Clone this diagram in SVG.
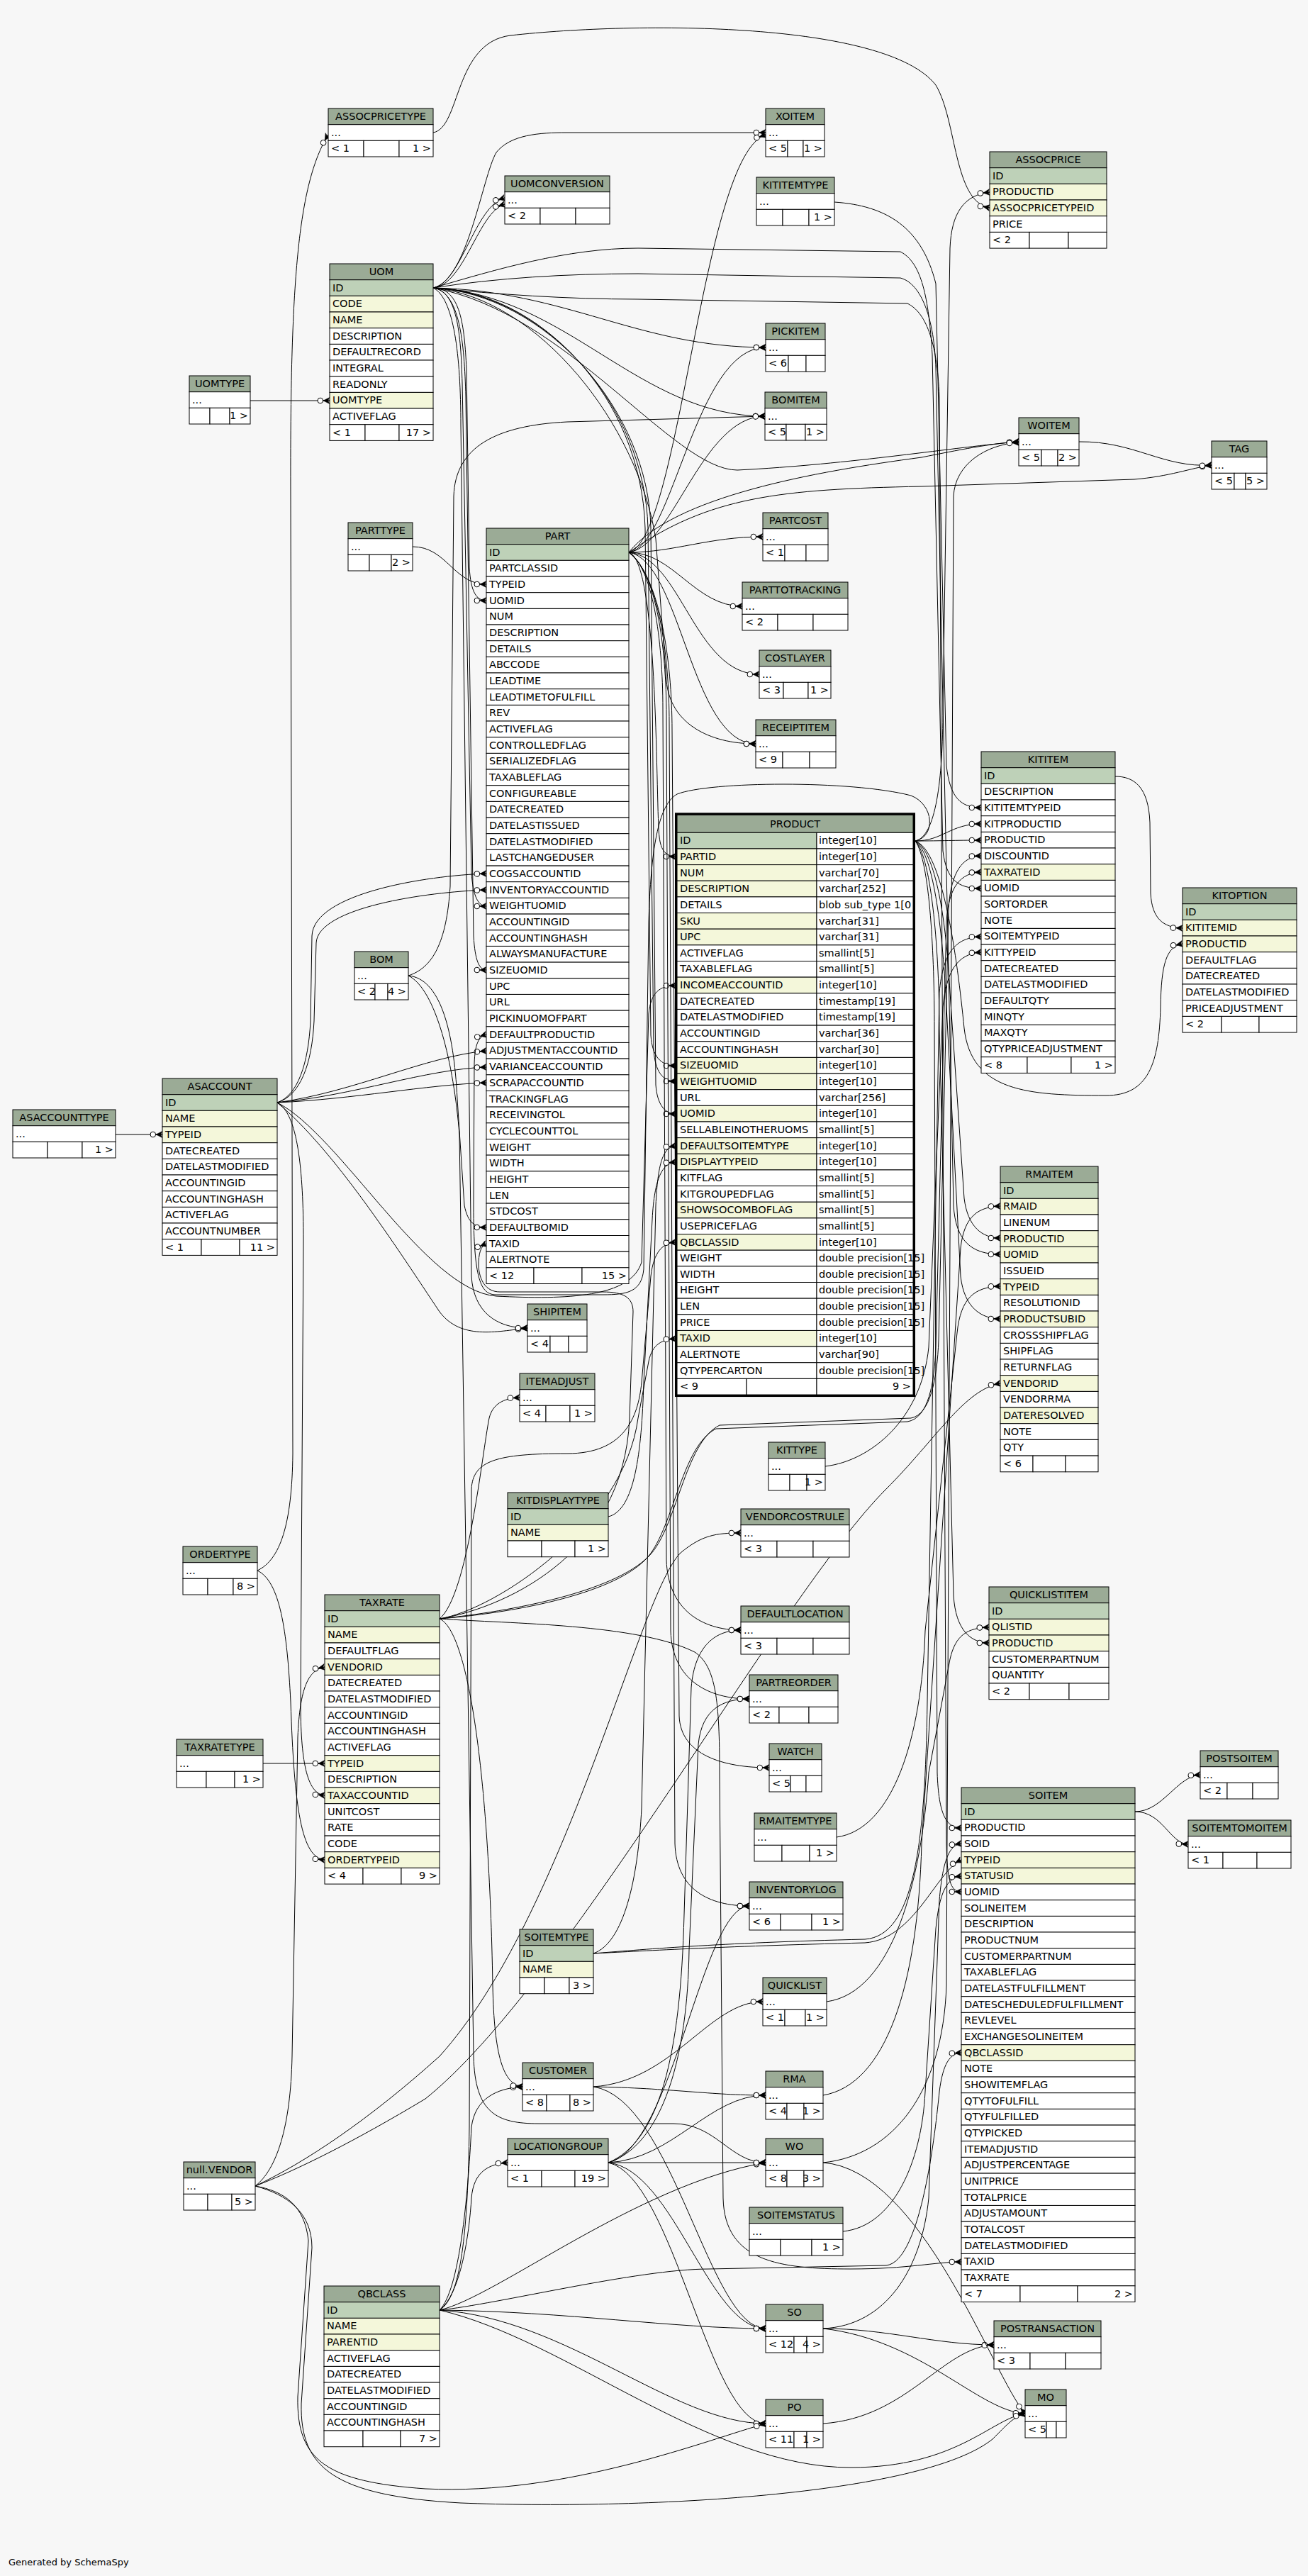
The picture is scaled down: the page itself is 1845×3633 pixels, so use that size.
<svg xmlns="http://www.w3.org/2000/svg" width="1845" height="3633" viewBox="0 0 1845 3633">
<style>
text{font-family:"DejaVu Sans","Liberation Sans",sans-serif;font-size:14.5px;fill:#000}
rect{stroke:#000;stroke-width:1}
.h{fill:#9bab96}.p{fill:#bed1b8}.f{fill:#f4f7da}.w{fill:#fff}
.c{text-anchor:middle}.r{text-anchor:end}
.e{fill:none;stroke:#000;stroke-width:1;marker-end:url(#cf)}
</style>
<defs>
<marker id="cf" markerUnits="userSpaceOnUse" markerWidth="22" markerHeight="14" refX="18" refY="7" orient="auto" viewBox="0 0 22 14"><path d="M9,7L18,2.5L15.5,7L18,11.5Z" fill="#000" stroke="#000" stroke-width="0.6"/><path d="M9,7L18,7" stroke="#000"/><circle cx="4.8" cy="7" r="3.8" fill="#fff" stroke="#000"/></marker>
</defs>
<rect width="1845" height="3633" style="fill:#f7f7f7;stroke:none"/>
<g id="connectors">
<path class="e" d="M353,565 L465,565"/>
<path class="e" d="M163,1600 L229,1600"/>
<path class="e" d="M371,2487 L458,2487"/>
<path class="e" d="M611,187 C650,180 640,60 720,50 C900,30 1250,30 1320,120 C1350,170 1345,285 1396,293"/>
<path class="e" d="M363,2215 C395,2200 412,2150 413,2050 L410,700 C409,400 420,260 463,190"/>
<path class="e" d="M363,2215 C395,2230 405,2300 410,2400 C415,2550 425,2620 458,2623"/>
<path class="e" d="M360,3083 C390,3060 410,3000 412,2900 L420,2450 C423,2380 435,2355 458,2351"/>
<path class="e" d="M391,1555 C420,1570 428,1650 428,1750 L424,2400 C424,2480 432,2530 458,2532"/>
<path class="e" d="M391,1555 C420,1545 435,1500 438,1440 L440,1320 C442,1260 600,1235 686,1232"/>
<path class="e" d="M391,1555 C424,1545 440,1500 443,1440 L446,1330 C448,1280 600,1258 686,1255"/>
<path class="e" d="M391,1555 C500,1540 600,1490 686,1482"/>
<path class="e" d="M391,1555 C500,1545 600,1508 686,1505"/>
<path class="e" d="M391,1555 C500,1550 600,1530 686,1527"/>
<path class="e" d="M391,1555 C480,1600 600,1820 700,1828 C800,1833 890,1830 905,1780 L915,1430 C918,1400 930,1390 953,1390"/>
<path class="e" d="M391,1555 C470,1620 560,1760 620,1850 C650,1890 700,1878 744,1873"/>
<path class="e" d="M611,406 C650,406 655,460 658,520 L662,800 C664,835 672,847 686,847"/>
<path class="e" d="M611,406 C645,410 650,470 652,540 L665,1230 C667,1265 675,1278 686,1278"/>
<path class="e" d="M611,406 C648,412 655,480 657,560 L668,1320 C670,1355 676,1368 686,1368"/>
<path class="e" d="M611,406 C760,410 905,560 910,745 L918,1460 C920,1490 932,1503 953,1503"/>
<path class="e" d="M611,406 C765,412 910,570 914,745 L922,1480 C924,1512 935,1525 953,1525"/>
<path class="e" d="M611,406 C770,415 915,580 918,745 L925,1530 C927,1558 938,1571 953,1571"/>
<path class="e" d="M611,406 C700,380 800,350 900,350 L1270,355 C1300,370 1310,420 1315,500 L1330,1200 C1335,1240 1350,1253 1384,1253"/>
<path class="e" d="M611,406 C700,392 800,386 900,386 L1270,392 C1300,400 1318,450 1320,520 L1345,1700 C1348,1750 1370,1769 1411,1769"/>
<path class="e" d="M611,406 C700,415 800,422 900,422 L1280,428 C1305,440 1322,480 1325,560 L1335,2600 C1336,2650 1340,2668 1356,2668"/>
<path class="e" d="M611,406 C650,400 670,290 712,279"/>
<path class="e" d="M611,406 C655,402 675,298 712,288"/>
<path class="e" d="M611,406 C660,395 680,250 700,215 C720,190 760,187 800,187 L1080,187"/>
<path class="e" d="M611,406 C800,410 900,490 1080,490"/>
<path class="e" d="M611,406 C800,415 900,587 1079,587"/>
<path class="e" d="M611,406 C800,440 950,663 1040,663 C1200,655 1350,630 1437,623"/>
<path class="e" d="M611,406 C760,420 900,600 925,760 L940,960 C945,1020 1000,1049 1066,1049"/>
<path class="e" d="M611,406 C640,420 650,500 650,600 L665,1800 C668,1850 700,1873 744,1873"/>
<path class="e" d="M582,771 C630,771 640,824 686,824"/>
<path class="e" d="M887,779 C950,779 1000,757 1076,757"/>
<path class="e" d="M887,779 C950,779 980,855 1047,855"/>
<path class="e" d="M887,779 C960,785 980,951 1071,951"/>
<path class="e" d="M887,779 C960,790 975,1049 1066,1049"/>
<path class="e" d="M887,779 C930,790 925,1150 930,1180 C932,1200 940,1208 953,1208"/>
<path class="e" d="M887,779 C950,770 980,490 1080,490"/>
<path class="e" d="M887,779 C950,770 990,587 1079,587"/>
<path class="e" d="M887,779 C960,760 990,220 1080,190"/>
<path class="e" d="M887,779 C950,700 1150,665 1300,645 C1350,635 1400,625 1437,623"/>
<path class="e" d="M887,779 C1000,700 1100,690 1300,686 L1600,676 C1650,672 1680,660 1709,656"/>
<path class="e" d="M887,779 C920,800 935,900 935,1000 L940,2200 C942,2270 990,2299 1045,2299"/>
<path class="e" d="M887,779 C925,805 940,910 940,1010 L946,2300 C948,2370 1000,2396 1057,2396"/>
<path class="e" d="M887,779 C928,810 944,920 944,1020 L952,2600 C954,2665 1000,2688 1057,2688"/>
<path class="e" d="M887,779 C930,812 948,930 948,1030 L958,2420 C960,2475 1020,2493 1085,2493"/>
<path class="e" d="M1291,1186 C1320,1180 1330,1100 1330,1000 L1340,350 C1342,300 1360,275 1396,271"/>
<path class="e" d="M1291,1186 C1330,1186 1340,1162 1384,1162"/>
<path class="e" d="M1291,1186 C1330,1186 1345,1185 1384,1185"/>
<path class="e" d="M1291,1186 C1330,1200 1350,1350 1360,1450 C1370,1540 1450,1545 1560,1545 C1620,1545 1635,1500 1637,1420 C1638,1360 1645,1335 1668,1331"/>
<path class="e" d="M1291,1186 C1320,1200 1335,1300 1340,1400 L1360,1690 C1365,1730 1385,1746 1411,1746"/>
<path class="e" d="M1291,1186 C1318,1205 1330,1320 1335,1420 L1355,1800 C1360,1845 1385,1860 1411,1860"/>
<path class="e" d="M1291,1186 C1315,1210 1325,1350 1325,1450 L1345,2250 C1348,2300 1370,2317 1395,2317"/>
<path class="e" d="M1291,1186 C1312,1215 1318,1350 1318,1450 L1322,2500 C1324,2560 1335,2578 1356,2578"/>
<path class="e" d="M1291,1186 C1320,1180 1318,1135 1285,1122 C1200,1100 1000,1102 955,1120 C928,1135 918,1200 915,1300 L908,1790 C905,1822 885,1826 850,1826 L700,1826 C678,1826 668,1805 668,1700 L669,1500 C670,1472 675,1462 686,1459"/>
<path class="e" d="M620,2283 C700,2270 880,2200 888,2000 L893,1850 C893,1830 880,1822 850,1822 L705,1822 C685,1822 676,1805 675,1785 C675,1768 678,1757 686,1754"/>
<path class="e" d="M1573,1095 C1600,1095 1620,1110 1622,1160 L1623,1260 C1625,1295 1640,1308 1668,1309"/>
<path class="e" d="M1601,2555 C1640,2555 1660,2505 1693,2503"/>
<path class="e" d="M1601,2555 C1640,2555 1650,2600 1676,2601"/>
<path class="e" d="M1177,285 C1250,290 1300,320 1320,400 L1335,1080 C1340,1125 1355,1139 1384,1139"/>
<path class="e" d="M1164,2068 C1230,2060 1300,2000 1310,1900 L1330,1420 C1335,1370 1350,1345 1384,1343"/>
<path class="e" d="M837,2755 C880,2740 900,2650 905,2550 L925,1700 C928,1640 935,1618 953,1616"/>
<path class="e" d="M837,2755 C900,2750 1010,2740 1220,2735 C1290,2730 1305,2600 1308,2400 L1325,1400 C1330,1340 1350,1322 1384,1321"/>
<path class="e" d="M837,2755 C900,2752 1010,2745 1220,2740 C1290,2735 1320,2640 1356,2623"/>
<path class="e" d="M858,2139 C895,2130 905,2050 908,1950 L920,1720 C923,1660 935,1640 953,1639"/>
<path class="e" d="M620,3258 C650,3240 660,3150 662,3000 L665,2100 C667,2060 700,2050 800,2050 C880,2050 900,2000 905,1950 L918,1800 C922,1765 935,1753 953,1752"/>
<path class="e" d="M620,3258 C700,3250 900,3200 1000,3200 L1250,3195 C1300,3190 1320,3000 1325,2950 C1330,2910 1340,2896 1356,2895"/>
<path class="e" d="M620,3258 C800,3260 950,3284 1080,3284"/>
<path class="e" d="M620,3258 C800,3270 950,3418 1080,3418"/>
<path class="e" d="M620,3258 C800,3300 1000,3480 1200,3480 C1350,3480 1400,3410 1446,3404"/>
<path class="e" d="M620,3258 C650,3235 662,3150 665,3100 C668,3062 690,3052 716,3050"/>
<path class="e" d="M620,3258 C648,3230 660,3100 665,3000 C670,2960 700,2945 737,2943"/>
<path class="e" d="M620,3258 C700,3240 900,3080 1080,3050"/>
<path class="e" d="M1161,3284 C1250,3280 1300,3200 1310,3100 L1325,2680 C1330,2620 1340,2602 1356,2600"/>
<path class="e" d="M1161,3284 C1250,3284 1320,3307 1402,3307"/>
<path class="e" d="M1161,3284 C1300,3300 1380,3400 1446,3404"/>
<path class="e" d="M1161,3418 C1280,3410 1330,3310 1402,3307"/>
<path class="e" d="M1161,3050 C1260,3040 1330,2950 1335,2800 L1345,700 C1347,655 1390,627 1437,624"/>
<path class="e" d="M1161,3050 C1300,3060 1400,3350 1446,3404"/>
<path class="e" d="M858,3050 L1080,3050"/>
<path class="e" d="M858,3050 C950,3045 1000,2955 1080,2955"/>
<path class="e" d="M858,3050 C950,3060 1000,3284 1080,3284"/>
<path class="e" d="M858,3050 C950,3070 1000,3418 1080,3418"/>
<path class="e" d="M858,3050 C950,3030 990,2688 1057,2688"/>
<path class="e" d="M858,3050 C930,3020 960,2900 965,2700 L975,2380 C980,2320 1010,2299 1045,2299"/>
<path class="e" d="M858,3050 C935,3025 970,2900 972,2750 L985,2460 C990,2410 1020,2396 1057,2396"/>
<path class="e" d="M837,2943 C950,2945 1000,2955 1080,2955"/>
<path class="e" d="M837,2943 C950,2960 1000,3284 1080,3284"/>
<path class="e" d="M837,2943 C950,2935 1000,2823 1076,2823"/>
<path class="e" d="M360,3083 C420,3060 500,3020 600,2960 C800,2800 1100,2250 1250,2100 C1320,2030 1360,1960 1411,1951"/>
<path class="e" d="M360,3083 C430,3050 520,2990 620,2900 C800,2700 900,2250 960,2190 C990,2165 1010,2162 1045,2162"/>
<path class="e" d="M360,3083 C400,3090 430,3110 435,3160 L420,3380 C418,3470 460,3500 600,3510 C800,3520 1000,3440 1080,3418"/>
<path class="e" d="M360,3083 C405,3095 440,3120 440,3170 L425,3390 C423,3480 470,3520 650,3530 C900,3540 1300,3520 1400,3440 C1420,3420 1430,3408 1446,3404"/>
<path class="e" d="M620,2283 C700,2270 880,2150 900,2000 L915,1920 C920,1895 935,1889 953,1888"/>
<path class="e" d="M620,2283 C720,2275 860,2250 910,2200 C950,2160 960,2040 1010,2015 L1280,2005 C1310,2000 1318,1950 1320,1900 L1335,1300 C1338,1250 1355,1231 1384,1230"/>
<path class="e" d="M620,2283 C725,2272 865,2245 915,2195 C955,2155 965,2035 1015,2010 L1285,2000 C1312,1995 1322,1945 1324,1890 L1338,1280 C1342,1228 1358,1208 1384,1207"/>
<path class="e" d="M620,2283 C720,2290 900,2290 980,2330 C1010,2350 1015,2400 1015,2500 L1020,3100 C1022,3190 1100,3200 1200,3200 C1280,3200 1320,3190 1356,3190"/>
<path class="e" d="M620,2283 C660,2250 680,2050 690,2000 C695,1980 710,1972 733,1971"/>
<path class="e" d="M620,2283 C660,2300 690,2500 695,2800 C697,2900 710,2940 737,2943"/>
<path class="e" d="M1189,3147 C1260,3140 1300,3050 1305,2950 L1320,2720 C1325,2670 1335,2648 1356,2646"/>
<path class="e" d="M1180,2591 C1260,2580 1300,2450 1305,2300 L1350,1880 C1355,1830 1375,1815 1411,1814"/>
<path class="e" d="M1161,2955 C1250,2940 1295,2800 1300,2600 L1355,1760 C1360,1715 1380,1702 1411,1701"/>
<path class="e" d="M1166,2823 C1260,2810 1300,2650 1310,2500 L1340,2340 C1348,2305 1365,2296 1395,2295"/>
<path class="e" d="M1522,623 C1600,622 1640,660 1709,656"/>
<path class="e" d="M576,1376 C620,1380 640,1450 645,1550 L655,1700 C660,1725 670,1731 686,1731"/>
<path class="e" d="M576,1376 C610,1365 630,1330 635,1250 L640,700 C642,630 700,600 800,595 L1079,587"/>
<path class="e" d="M576,1376 C615,1395 640,1500 648,1600 L668,2900 C670,2980 700,2995 760,2995 L950,2995 C1010,2995 1030,3050 1080,3050"/>
</g>
<g id="ASSOCPRICETYPE" transform="translate(463,153)"><rect class="h" width="148" height="22.7"/><text class="c" x="74" y="16">ASSOCPRICETYPE</text><rect class="w" y="22.7" width="148" height="22.7"/><text x="4" y="38.7">...</text><rect class="w" y="45.3" width="50" height="22.7"/><rect class="w" x="50" y="45.3" width="50" height="22.7"/><rect class="w" x="100" y="45.3" width="48" height="22.7"/><text x="4" y="61.3">&lt; 1</text><text class="r" x="145" y="61.3">1 &gt;</text></g>
<g id="XOITEM" transform="translate(1080,153)"><rect class="h" width="83" height="22.7"/><text class="c" x="41.5" y="16">XOITEM</text><rect class="w" y="22.7" width="83" height="22.7"/><text x="4" y="38.7">...</text><rect class="w" y="45.3" width="31" height="22.7"/><rect class="w" x="31" y="45.3" width="22" height="22.7"/><rect class="w" x="53" y="45.3" width="30" height="22.7"/><text x="4" y="61.3">&lt; 5</text><text class="r" x="80" y="61.3">1 &gt;</text></g>
<g id="UOMCONVERSION" transform="translate(712,248)"><rect class="h" width="148" height="22.7"/><text class="c" x="74" y="16">UOMCONVERSION</text><rect class="w" y="22.7" width="148" height="22.7"/><text x="4" y="38.7">...</text><rect class="w" y="45.3" width="50" height="22.7"/><rect class="w" x="50" y="45.3" width="50" height="22.7"/><rect class="w" x="100" y="45.3" width="48" height="22.7"/><text x="4" y="61.3">&lt; 2</text></g>
<g id="KITITEMTYPE" transform="translate(1067,250)"><rect class="h" width="110" height="22.7"/><text class="c" x="55" y="16">KITITEMTYPE</text><rect class="w" y="22.7" width="110" height="22.7"/><text x="4" y="38.7">...</text><rect class="w" y="45.3" width="37" height="22.7"/><rect class="w" x="37" y="45.3" width="37" height="22.7"/><rect class="w" x="74" y="45.3" width="36" height="22.7"/><text class="r" x="107" y="61.3">1 &gt;</text></g>
<g id="ASSOCPRICE" transform="translate(1396,214)"><rect class="h" width="165" height="22.7"/><text class="c" x="82.5" y="16">ASSOCPRICE</text>
<rect class="p" y="22.7" width="165" height="22.7"/><text x="4" y="38.7">ID</text>
<rect class="f" y="45.3" width="165" height="22.7"/><text x="4" y="61.3">PRODUCTID</text>
<rect class="f" y="68" width="165" height="22.7"/><text x="4" y="84">ASSOCPRICETYPEID</text>
<rect class="w" y="90.7" width="165" height="22.7"/><text x="4" y="106.7">PRICE</text>
<rect class="w" y="113.4" width="56" height="22.7"/><rect class="w" x="56" y="113.4" width="55" height="22.7"/><rect class="w" x="111" y="113.4" width="54" height="22.7"/><text x="4" y="129.4">&lt; 2</text></g>
<g id="UOM" transform="translate(465,372)"><rect class="h" width="146" height="22.7"/><text class="c" x="73" y="16">UOM</text>
<rect class="p" y="22.7" width="146" height="22.7"/><text x="4" y="38.7">ID</text>
<rect class="f" y="45.3" width="146" height="22.7"/><text x="4" y="61.3">CODE</text>
<rect class="f" y="68" width="146" height="22.7"/><text x="4" y="84">NAME</text>
<rect class="w" y="90.7" width="146" height="22.7"/><text x="4" y="106.7">DESCRIPTION</text>
<rect class="w" y="113.4" width="146" height="22.7"/><text x="4" y="129.4">DEFAULTRECORD</text>
<rect class="w" y="136" width="146" height="22.7"/><text x="4" y="152">INTEGRAL</text>
<rect class="w" y="158.7" width="146" height="22.7"/><text x="4" y="174.7">READONLY</text>
<rect class="f" y="181.4" width="146" height="22.7"/><text x="4" y="197.4">UOMTYPE</text>
<rect class="w" y="204" width="146" height="22.7"/><text x="4" y="220">ACTIVEFLAG</text>
<rect class="w" y="226.7" width="50" height="22.7"/><rect class="w" x="50" y="226.7" width="48" height="22.7"/><rect class="w" x="98" y="226.7" width="48" height="22.7"/><text x="4" y="242.7">&lt; 1</text><text class="r" x="143" y="242.7">17 &gt;</text></g>
<g id="PICKITEM" transform="translate(1080,456)"><rect class="h" width="84" height="22.7"/><text class="c" x="42" y="16">PICKITEM</text><rect class="w" y="22.7" width="84" height="22.7"/><text x="4" y="38.7">...</text><rect class="w" y="45.3" width="32" height="22.7"/><rect class="w" x="32" y="45.3" width="25" height="22.7"/><rect class="w" x="57" y="45.3" width="27" height="22.7"/><text x="4" y="61.3">&lt; 6</text></g>
<g id="UOMTYPE" transform="translate(267,530)"><rect class="h" width="86" height="22.7"/><text class="c" x="43" y="16">UOMTYPE</text><rect class="w" y="22.7" width="86" height="22.7"/><text x="4" y="38.7">...</text><rect class="w" y="45.3" width="29" height="22.7"/><rect class="w" x="29" y="45.3" width="28" height="22.7"/><rect class="w" x="57" y="45.3" width="29" height="22.7"/><text class="r" x="83" y="61.3">1 &gt;</text></g>
<g id="BOMITEM" transform="translate(1079,553)"><rect class="h" width="87" height="22.7"/><text class="c" x="43.5" y="16">BOMITEM</text><rect class="w" y="22.7" width="87" height="22.7"/><text x="4" y="38.7">...</text><rect class="w" y="45.3" width="30" height="22.7"/><rect class="w" x="30" y="45.3" width="27" height="22.7"/><rect class="w" x="57" y="45.3" width="30" height="22.7"/><text x="4" y="61.3">&lt; 5</text><text class="r" x="84" y="61.3">1 &gt;</text></g>
<g id="WOITEM" transform="translate(1437,589)"><rect class="h" width="85" height="22.7"/><text class="c" x="42.5" y="16">WOITEM</text><rect class="w" y="22.7" width="85" height="22.7"/><text x="4" y="38.7">...</text><rect class="w" y="45.3" width="32" height="22.7"/><rect class="w" x="32" y="45.3" width="23" height="22.7"/><rect class="w" x="55" y="45.3" width="30" height="22.7"/><text x="4" y="61.3">&lt; 5</text><text class="r" x="82" y="61.3">2 &gt;</text></g>
<g id="TAG" transform="translate(1709,622)"><rect class="h" width="78" height="22.7"/><text class="c" x="39" y="16">TAG</text><rect class="w" y="22.7" width="78" height="22.7"/><text x="4" y="38.7">...</text><rect class="w" y="45.3" width="32" height="22.7"/><rect class="w" x="32" y="45.3" width="16" height="22.7"/><rect class="w" x="48" y="45.3" width="30" height="22.7"/><text x="4" y="61.3">&lt; 5</text><text class="r" x="75" y="61.3">5 &gt;</text></g>
<g id="PARTCOST" transform="translate(1076,723)"><rect class="h" width="92" height="22.7"/><text class="c" x="46" y="16">PARTCOST</text><rect class="w" y="22.7" width="92" height="22.7"/><text x="4" y="38.7">...</text><rect class="w" y="45.3" width="31" height="22.7"/><rect class="w" x="31" y="45.3" width="30" height="22.7"/><rect class="w" x="61" y="45.3" width="31" height="22.7"/><text x="4" y="61.3">&lt; 1</text></g>
<g id="PARTTYPE" transform="translate(491,737)"><rect class="h" width="91" height="22.7"/><text class="c" x="45.5" y="16">PARTTYPE</text><rect class="w" y="22.7" width="91" height="22.7"/><text x="4" y="38.7">...</text><rect class="w" y="45.3" width="30" height="22.7"/><rect class="w" x="30" y="45.3" width="31" height="22.7"/><rect class="w" x="61" y="45.3" width="30" height="22.7"/><text class="r" x="88" y="61.3">2 &gt;</text></g>
<g id="PART" transform="translate(686,745)"><rect class="h" width="201" height="22.7"/><text class="c" x="100.5" y="16">PART</text>
<rect class="p" y="22.7" width="201" height="22.7"/><text x="4" y="38.7">ID</text>
<rect class="w" y="45.3" width="201" height="22.7"/><text x="4" y="61.3">PARTCLASSID</text>
<rect class="w" y="68" width="201" height="22.7"/><text x="4" y="84">TYPEID</text>
<rect class="w" y="90.7" width="201" height="22.7"/><text x="4" y="106.7">UOMID</text>
<rect class="w" y="113.4" width="201" height="22.7"/><text x="4" y="129.4">NUM</text>
<rect class="w" y="136" width="201" height="22.7"/><text x="4" y="152">DESCRIPTION</text>
<rect class="w" y="158.7" width="201" height="22.7"/><text x="4" y="174.7">DETAILS</text>
<rect class="w" y="181.4" width="201" height="22.7"/><text x="4" y="197.4">ABCCODE</text>
<rect class="w" y="204" width="201" height="22.7"/><text x="4" y="220">LEADTIME</text>
<rect class="w" y="226.7" width="201" height="22.7"/><text x="4" y="242.7">LEADTIMETOFULFILL</text>
<rect class="w" y="249.4" width="201" height="22.7"/><text x="4" y="265.4">REV</text>
<rect class="w" y="272" width="201" height="22.7"/><text x="4" y="288">ACTIVEFLAG</text>
<rect class="w" y="294.7" width="201" height="22.7"/><text x="4" y="310.7">CONTROLLEDFLAG</text>
<rect class="w" y="317.4" width="201" height="22.7"/><text x="4" y="333.4">SERIALIZEDFLAG</text>
<rect class="w" y="340.1" width="201" height="22.7"/><text x="4" y="356.1">TAXABLEFLAG</text>
<rect class="w" y="362.7" width="201" height="22.7"/><text x="4" y="378.7">CONFIGUREABLE</text>
<rect class="w" y="385.4" width="201" height="22.7"/><text x="4" y="401.4">DATECREATED</text>
<rect class="w" y="408.1" width="201" height="22.7"/><text x="4" y="424.1">DATELASTISSUED</text>
<rect class="w" y="430.7" width="201" height="22.7"/><text x="4" y="446.7">DATELASTMODIFIED</text>
<rect class="w" y="453.4" width="201" height="22.7"/><text x="4" y="469.4">LASTCHANGEDUSER</text>
<rect class="w" y="476.1" width="201" height="22.7"/><text x="4" y="492.1">COGSACCOUNTID</text>
<rect class="w" y="498.7" width="201" height="22.7"/><text x="4" y="514.7">INVENTORYACCOUNTID</text>
<rect class="w" y="521.4" width="201" height="22.7"/><text x="4" y="537.4">WEIGHTUOMID</text>
<rect class="w" y="544.1" width="201" height="22.7"/><text x="4" y="560.1">ACCOUNTINGID</text>
<rect class="w" y="566.8" width="201" height="22.7"/><text x="4" y="582.8">ACCOUNTINGHASH</text>
<rect class="w" y="589.4" width="201" height="22.7"/><text x="4" y="605.4">ALWAYSMANUFACTURE</text>
<rect class="w" y="612.1" width="201" height="22.7"/><text x="4" y="628.1">SIZEUOMID</text>
<rect class="w" y="634.8" width="201" height="22.7"/><text x="4" y="650.8">UPC</text>
<rect class="w" y="657.4" width="201" height="22.7"/><text x="4" y="673.4">URL</text>
<rect class="w" y="680.1" width="201" height="22.7"/><text x="4" y="696.1">PICKINUOMOFPART</text>
<rect class="w" y="702.8" width="201" height="22.7"/><text x="4" y="718.8">DEFAULTPRODUCTID</text>
<rect class="w" y="725.4" width="201" height="22.7"/><text x="4" y="741.4">ADJUSTMENTACCOUNTID</text>
<rect class="w" y="748.1" width="201" height="22.7"/><text x="4" y="764.1">VARIANCEACCOUNTID</text>
<rect class="w" y="770.8" width="201" height="22.7"/><text x="4" y="786.8">SCRAPACCOUNTID</text>
<rect class="w" y="793.5" width="201" height="22.7"/><text x="4" y="809.5">TRACKINGFLAG</text>
<rect class="w" y="816.1" width="201" height="22.7"/><text x="4" y="832.1">RECEIVINGTOL</text>
<rect class="w" y="838.8" width="201" height="22.7"/><text x="4" y="854.8">CYCLECOUNTTOL</text>
<rect class="w" y="861.5" width="201" height="22.7"/><text x="4" y="877.5">WEIGHT</text>
<rect class="w" y="884.1" width="201" height="22.7"/><text x="4" y="900.1">WIDTH</text>
<rect class="w" y="906.8" width="201" height="22.7"/><text x="4" y="922.8">HEIGHT</text>
<rect class="w" y="929.5" width="201" height="22.7"/><text x="4" y="945.5">LEN</text>
<rect class="w" y="952.1" width="201" height="22.7"/><text x="4" y="968.1">STDCOST</text>
<rect class="w" y="974.8" width="201" height="22.7"/><text x="4" y="990.8">DEFAULTBOMID</text>
<rect class="w" y="997.5" width="201" height="22.7"/><text x="4" y="1013.5">TAXID</text>
<rect class="w" y="1020.2" width="201" height="22.7"/><text x="4" y="1036.2">ALERTNOTE</text>
<rect class="w" y="1042.8" width="67" height="22.7"/><rect class="w" x="67" y="1042.8" width="68" height="22.7"/><rect class="w" x="135" y="1042.8" width="66" height="22.7"/><text x="4" y="1058.8">&lt; 12</text><text class="r" x="198" y="1058.8">15 &gt;</text></g>
<g id="PARTTOTRACKING" transform="translate(1047,821)"><rect class="h" width="149" height="22.7"/><text class="c" x="74.5" y="16">PARTTOTRACKING</text><rect class="w" y="22.7" width="149" height="22.7"/><text x="4" y="38.7">...</text><rect class="w" y="45.3" width="50" height="22.7"/><rect class="w" x="50" y="45.3" width="50" height="22.7"/><rect class="w" x="100" y="45.3" width="49" height="22.7"/><text x="4" y="61.3">&lt; 2</text></g>
<g id="COSTLAYER" transform="translate(1071,917)"><rect class="h" width="101" height="22.7"/><text class="c" x="50.5" y="16">COSTLAYER</text><rect class="w" y="22.7" width="101" height="22.7"/><text x="4" y="38.7">...</text><rect class="w" y="45.3" width="34" height="22.7"/><rect class="w" x="34" y="45.3" width="35" height="22.7"/><rect class="w" x="69" y="45.3" width="32" height="22.7"/><text x="4" y="61.3">&lt; 3</text><text class="r" x="98" y="61.3">1 &gt;</text></g>
<g id="RECEIPTITEM" transform="translate(1066,1015)"><rect class="h" width="113" height="22.7"/><text class="c" x="56.5" y="16">RECEIPTITEM</text><rect class="w" y="22.7" width="113" height="22.7"/><text x="4" y="38.7">...</text><rect class="w" y="45.3" width="38" height="22.7"/><rect class="w" x="38" y="45.3" width="38" height="22.7"/><rect class="w" x="76" y="45.3" width="37" height="22.7"/><text x="4" y="61.3">&lt; 9</text></g>
<g id="KITITEM" transform="translate(1384,1060)"><rect class="h" width="189" height="22.7"/><text class="c" x="94.5" y="16">KITITEM</text>
<rect class="p" y="22.7" width="189" height="22.7"/><text x="4" y="38.7">ID</text>
<rect class="w" y="45.3" width="189" height="22.7"/><text x="4" y="61.3">DESCRIPTION</text>
<rect class="w" y="68" width="189" height="22.7"/><text x="4" y="84">KITITEMTYPEID</text>
<rect class="w" y="90.7" width="189" height="22.7"/><text x="4" y="106.7">KITPRODUCTID</text>
<rect class="w" y="113.4" width="189" height="22.7"/><text x="4" y="129.4">PRODUCTID</text>
<rect class="w" y="136" width="189" height="22.7"/><text x="4" y="152">DISCOUNTID</text>
<rect class="f" y="158.7" width="189" height="22.7"/><text x="4" y="174.7">TAXRATEID</text>
<rect class="w" y="181.4" width="189" height="22.7"/><text x="4" y="197.4">UOMID</text>
<rect class="w" y="204" width="189" height="22.7"/><text x="4" y="220">SORTORDER</text>
<rect class="w" y="226.7" width="189" height="22.7"/><text x="4" y="242.7">NOTE</text>
<rect class="w" y="249.4" width="189" height="22.7"/><text x="4" y="265.4">SOITEMTYPEID</text>
<rect class="w" y="272" width="189" height="22.7"/><text x="4" y="288">KITTYPEID</text>
<rect class="w" y="294.7" width="189" height="22.7"/><text x="4" y="310.7">DATECREATED</text>
<rect class="w" y="317.4" width="189" height="22.7"/><text x="4" y="333.4">DATELASTMODIFIED</text>
<rect class="w" y="340.1" width="189" height="22.7"/><text x="4" y="356.1">DEFAULTQTY</text>
<rect class="w" y="362.7" width="189" height="22.7"/><text x="4" y="378.7">MINQTY</text>
<rect class="w" y="385.4" width="189" height="22.7"/><text x="4" y="401.4">MAXQTY</text>
<rect class="w" y="408.1" width="189" height="22.7"/><text x="4" y="424.1">QTYPRICEADJUSTMENT</text>
<rect class="w" y="430.7" width="65" height="22.7"/><rect class="w" x="65" y="430.7" width="62" height="22.7"/><rect class="w" x="127" y="430.7" width="62" height="22.7"/><text x="4" y="446.7">&lt; 8</text><text class="r" x="186" y="446.7">1 &gt;</text></g>
<g id="PRODUCT" transform="translate(955,1149.3)"><rect class="h" width="333" height="25"/><text class="c" x="166.5" y="17.5">PRODUCT</text>
<rect class="p" y="25" width="197" height="22.65"/><rect class="w" x="197" y="25" width="136" height="22.65"/><text x="4" y="41">ID</text><text x="200" y="41">integer[10]</text>
<rect class="f" y="47.65" width="197" height="22.65"/><rect class="w" x="197" y="47.65" width="136" height="22.65"/><text x="4" y="63.65">PARTID</text><text x="200" y="63.65">integer[10]</text>
<rect class="f" y="70.3" width="197" height="22.65"/><rect class="w" x="197" y="70.3" width="136" height="22.65"/><text x="4" y="86.3">NUM</text><text x="200" y="86.3">varchar[70]</text>
<rect class="f" y="92.95" width="197" height="22.65"/><rect class="w" x="197" y="92.95" width="136" height="22.65"/><text x="4" y="108.95">DESCRIPTION</text><text x="200" y="108.95">varchar[252]</text>
<rect class="w" y="115.6" width="197" height="22.65"/><rect class="w" x="197" y="115.6" width="136" height="22.65"/><text x="4" y="131.6">DETAILS</text><text x="200" y="131.6">blob sub_type 1[0</text>
<rect class="f" y="138.25" width="197" height="22.65"/><rect class="w" x="197" y="138.25" width="136" height="22.65"/><text x="4" y="154.25">SKU</text><text x="200" y="154.25">varchar[31]</text>
<rect class="f" y="160.9" width="197" height="22.65"/><rect class="w" x="197" y="160.9" width="136" height="22.65"/><text x="4" y="176.9">UPC</text><text x="200" y="176.9">varchar[31]</text>
<rect class="w" y="183.55" width="197" height="22.65"/><rect class="w" x="197" y="183.55" width="136" height="22.65"/><text x="4" y="199.55">ACTIVEFLAG</text><text x="200" y="199.55">smallint[5]</text>
<rect class="w" y="206.2" width="197" height="22.65"/><rect class="w" x="197" y="206.2" width="136" height="22.65"/><text x="4" y="222.2">TAXABLEFLAG</text><text x="200" y="222.2">smallint[5]</text>
<rect class="f" y="228.85" width="197" height="22.65"/><rect class="w" x="197" y="228.85" width="136" height="22.65"/><text x="4" y="244.85">INCOMEACCOUNTID</text><text x="200" y="244.85">integer[10]</text>
<rect class="w" y="251.5" width="197" height="22.65"/><rect class="w" x="197" y="251.5" width="136" height="22.65"/><text x="4" y="267.5">DATECREATED</text><text x="200" y="267.5">timestamp[19]</text>
<rect class="w" y="274.15" width="197" height="22.65"/><rect class="w" x="197" y="274.15" width="136" height="22.65"/><text x="4" y="290.15">DATELASTMODIFIED</text><text x="200" y="290.15">timestamp[19]</text>
<rect class="w" y="296.8" width="197" height="22.65"/><rect class="w" x="197" y="296.8" width="136" height="22.65"/><text x="4" y="312.8">ACCOUNTINGID</text><text x="200" y="312.8">varchar[36]</text>
<rect class="w" y="319.45" width="197" height="22.65"/><rect class="w" x="197" y="319.45" width="136" height="22.65"/><text x="4" y="335.45">ACCOUNTINGHASH</text><text x="200" y="335.45">varchar[30]</text>
<rect class="f" y="342.1" width="197" height="22.65"/><rect class="w" x="197" y="342.1" width="136" height="22.65"/><text x="4" y="358.1">SIZEUOMID</text><text x="200" y="358.1">integer[10]</text>
<rect class="f" y="364.75" width="197" height="22.65"/><rect class="w" x="197" y="364.75" width="136" height="22.65"/><text x="4" y="380.75">WEIGHTUOMID</text><text x="200" y="380.75">integer[10]</text>
<rect class="w" y="387.4" width="197" height="22.65"/><rect class="w" x="197" y="387.4" width="136" height="22.65"/><text x="4" y="403.4">URL</text><text x="200" y="403.4">varchar[256]</text>
<rect class="f" y="410.05" width="197" height="22.65"/><rect class="w" x="197" y="410.05" width="136" height="22.65"/><text x="4" y="426.05">UOMID</text><text x="200" y="426.05">integer[10]</text>
<rect class="w" y="432.7" width="197" height="22.65"/><rect class="w" x="197" y="432.7" width="136" height="22.65"/><text x="4" y="448.7">SELLABLEINOTHERUOMS</text><text x="200" y="448.7">smallint[5]</text>
<rect class="f" y="455.35" width="197" height="22.65"/><rect class="w" x="197" y="455.35" width="136" height="22.65"/><text x="4" y="471.35">DEFAULTSOITEMTYPE</text><text x="200" y="471.35">integer[10]</text>
<rect class="f" y="478" width="197" height="22.65"/><rect class="w" x="197" y="478" width="136" height="22.65"/><text x="4" y="494">DISPLAYTYPEID</text><text x="200" y="494">integer[10]</text>
<rect class="w" y="500.65" width="197" height="22.65"/><rect class="w" x="197" y="500.65" width="136" height="22.65"/><text x="4" y="516.65">KITFLAG</text><text x="200" y="516.65">smallint[5]</text>
<rect class="w" y="523.3" width="197" height="22.65"/><rect class="w" x="197" y="523.3" width="136" height="22.65"/><text x="4" y="539.3">KITGROUPEDFLAG</text><text x="200" y="539.3">smallint[5]</text>
<rect class="f" y="545.95" width="197" height="22.65"/><rect class="w" x="197" y="545.95" width="136" height="22.65"/><text x="4" y="561.95">SHOWSOCOMBOFLAG</text><text x="200" y="561.95">smallint[5]</text>
<rect class="w" y="568.6" width="197" height="22.65"/><rect class="w" x="197" y="568.6" width="136" height="22.65"/><text x="4" y="584.6">USEPRICEFLAG</text><text x="200" y="584.6">smallint[5]</text>
<rect class="f" y="591.25" width="197" height="22.65"/><rect class="w" x="197" y="591.25" width="136" height="22.65"/><text x="4" y="607.25">QBCLASSID</text><text x="200" y="607.25">integer[10]</text>
<rect class="w" y="613.9" width="197" height="22.65"/><rect class="w" x="197" y="613.9" width="136" height="22.65"/><text x="4" y="629.9">WEIGHT</text><text x="200" y="629.9">double precision[15]</text>
<rect class="w" y="636.55" width="197" height="22.65"/><rect class="w" x="197" y="636.55" width="136" height="22.65"/><text x="4" y="652.55">WIDTH</text><text x="200" y="652.55">double precision[15]</text>
<rect class="w" y="659.2" width="197" height="22.65"/><rect class="w" x="197" y="659.2" width="136" height="22.65"/><text x="4" y="675.2">HEIGHT</text><text x="200" y="675.2">double precision[15]</text>
<rect class="w" y="681.85" width="197" height="22.65"/><rect class="w" x="197" y="681.85" width="136" height="22.65"/><text x="4" y="697.85">LEN</text><text x="200" y="697.85">double precision[15]</text>
<rect class="w" y="704.5" width="197" height="22.65"/><rect class="w" x="197" y="704.5" width="136" height="22.65"/><text x="4" y="720.5">PRICE</text><text x="200" y="720.5">double precision[15]</text>
<rect class="f" y="727.15" width="197" height="22.65"/><rect class="w" x="197" y="727.15" width="136" height="22.65"/><text x="4" y="743.15">TAXID</text><text x="200" y="743.15">integer[10]</text>
<rect class="w" y="749.8" width="197" height="22.65"/><rect class="w" x="197" y="749.8" width="136" height="22.65"/><text x="4" y="765.8">ALERTNOTE</text><text x="200" y="765.8">varchar[90]</text>
<rect class="w" y="772.45" width="197" height="22.65"/><rect class="w" x="197" y="772.45" width="136" height="22.65"/><text x="4" y="788.45">QTYPERCARTON</text><text x="200" y="788.45">double precision[15]</text>
<rect class="w" y="795.1" width="98" height="22.65"/><rect class="w" x="98" y="795.1" width="99" height="22.65"/><rect class="w" x="197" y="795.1" width="136" height="22.65"/><text x="4" y="811.1">&lt; 9</text><text class="r" x="330" y="811.1">9 &gt;</text>
<rect x="-1.5" y="-1.5" width="336" height="820.75" style="fill:none;stroke-width:3"/></g>
<g id="KITOPTION" transform="translate(1668,1252)"><rect class="h" width="161" height="22.7"/><text class="c" x="80.5" y="16">KITOPTION</text>
<rect class="p" y="22.7" width="161" height="22.7"/><text x="4" y="38.7">ID</text>
<rect class="f" y="45.3" width="161" height="22.7"/><text x="4" y="61.3">KITITEMID</text>
<rect class="f" y="68" width="161" height="22.7"/><text x="4" y="84">PRODUCTID</text>
<rect class="w" y="90.7" width="161" height="22.7"/><text x="4" y="106.7">DEFAULTFLAG</text>
<rect class="w" y="113.4" width="161" height="22.7"/><text x="4" y="129.4">DATECREATED</text>
<rect class="w" y="136" width="161" height="22.7"/><text x="4" y="152">DATELASTMODIFIED</text>
<rect class="w" y="158.7" width="161" height="22.7"/><text x="4" y="174.7">PRICEADJUSTMENT</text>
<rect class="w" y="181.4" width="55" height="22.7"/><rect class="w" x="55" y="181.4" width="53" height="22.7"/><rect class="w" x="108" y="181.4" width="53" height="22.7"/><text x="4" y="197.4">&lt; 2</text></g>
<g id="BOM" transform="translate(500,1342)"><rect class="h" width="76" height="22.7"/><text class="c" x="38" y="16">BOM</text><rect class="w" y="22.7" width="76" height="22.7"/><text x="4" y="38.7">...</text><rect class="w" y="45.3" width="29" height="22.7"/><rect class="w" x="29" y="45.3" width="18" height="22.7"/><rect class="w" x="47" y="45.3" width="29" height="22.7"/><text x="4" y="61.3">&lt; 2</text><text class="r" x="73" y="61.3">4 &gt;</text></g>
<g id="ASACCOUNT" transform="translate(229,1521)"><rect class="h" width="162" height="22.7"/><text class="c" x="81" y="16">ASACCOUNT</text>
<rect class="p" y="22.7" width="162" height="22.7"/><text x="4" y="38.7">ID</text>
<rect class="f" y="45.3" width="162" height="22.7"/><text x="4" y="61.3">NAME</text>
<rect class="f" y="68" width="162" height="22.7"/><text x="4" y="84">TYPEID</text>
<rect class="w" y="90.7" width="162" height="22.7"/><text x="4" y="106.7">DATECREATED</text>
<rect class="w" y="113.4" width="162" height="22.7"/><text x="4" y="129.4">DATELASTMODIFIED</text>
<rect class="w" y="136" width="162" height="22.7"/><text x="4" y="152">ACCOUNTINGID</text>
<rect class="w" y="158.7" width="162" height="22.7"/><text x="4" y="174.7">ACCOUNTINGHASH</text>
<rect class="w" y="181.4" width="162" height="22.7"/><text x="4" y="197.4">ACTIVEFLAG</text>
<rect class="w" y="204" width="162" height="22.7"/><text x="4" y="220">ACCOUNTNUMBER</text>
<rect class="w" y="226.7" width="55" height="22.7"/><rect class="w" x="55" y="226.7" width="54" height="22.7"/><rect class="w" x="109" y="226.7" width="53" height="22.7"/><text x="4" y="242.7">&lt; 1</text><text class="r" x="159" y="242.7">11 &gt;</text></g>
<g id="ASACCOUNTTYPE" transform="translate(18,1565)"><rect class="h" width="145" height="22.7"/><text class="c" x="72.5" y="16">ASACCOUNTTYPE</text><rect class="w" y="22.7" width="145" height="22.7"/><text x="4" y="38.7">...</text><rect class="w" y="45.3" width="49" height="22.7"/><rect class="w" x="49" y="45.3" width="49" height="22.7"/><rect class="w" x="98" y="45.3" width="47" height="22.7"/><text class="r" x="142" y="61.3">1 &gt;</text></g>
<g id="RMAITEM" transform="translate(1411,1645)"><rect class="h" width="138" height="22.7"/><text class="c" x="69" y="16">RMAITEM</text>
<rect class="p" y="22.7" width="138" height="22.7"/><text x="4" y="38.7">ID</text>
<rect class="f" y="45.3" width="138" height="22.7"/><text x="4" y="61.3">RMAID</text>
<rect class="w" y="68" width="138" height="22.7"/><text x="4" y="84">LINENUM</text>
<rect class="f" y="90.7" width="138" height="22.7"/><text x="4" y="106.7">PRODUCTID</text>
<rect class="f" y="113.4" width="138" height="22.7"/><text x="4" y="129.4">UOMID</text>
<rect class="w" y="136" width="138" height="22.7"/><text x="4" y="152">ISSUEID</text>
<rect class="f" y="158.7" width="138" height="22.7"/><text x="4" y="174.7">TYPEID</text>
<rect class="w" y="181.4" width="138" height="22.7"/><text x="4" y="197.4">RESOLUTIONID</text>
<rect class="f" y="204" width="138" height="22.7"/><text x="4" y="220">PRODUCTSUBID</text>
<rect class="w" y="226.7" width="138" height="22.7"/><text x="4" y="242.7">CROSSSHIPFLAG</text>
<rect class="w" y="249.4" width="138" height="22.7"/><text x="4" y="265.4">SHIPFLAG</text>
<rect class="w" y="272" width="138" height="22.7"/><text x="4" y="288">RETURNFLAG</text>
<rect class="f" y="294.7" width="138" height="22.7"/><text x="4" y="310.7">VENDORID</text>
<rect class="w" y="317.4" width="138" height="22.7"/><text x="4" y="333.4">VENDORRMA</text>
<rect class="f" y="340.1" width="138" height="22.7"/><text x="4" y="356.1">DATERESOLVED</text>
<rect class="w" y="362.7" width="138" height="22.7"/><text x="4" y="378.7">NOTE</text>
<rect class="w" y="385.4" width="138" height="22.7"/><text x="4" y="401.4">QTY</text>
<rect class="w" y="408.1" width="46" height="22.7"/><rect class="w" x="46" y="408.1" width="46" height="22.7"/><rect class="w" x="92" y="408.1" width="46" height="22.7"/><text x="4" y="424.1">&lt; 6</text></g>
<g id="SHIPITEM" transform="translate(744,1839)"><rect class="h" width="84" height="22.7"/><text class="c" x="42" y="16">SHIPITEM</text><rect class="w" y="22.7" width="84" height="22.7"/><text x="4" y="38.7">...</text><rect class="w" y="45.3" width="32" height="22.7"/><rect class="w" x="32" y="45.3" width="26" height="22.7"/><rect class="w" x="58" y="45.3" width="26" height="22.7"/><text x="4" y="61.3">&lt; 4</text></g>
<g id="ITEMADJUST" transform="translate(733,1937)"><rect class="h" width="106" height="22.7"/><text class="c" x="53" y="16">ITEMADJUST</text><rect class="w" y="22.7" width="106" height="22.7"/><text x="4" y="38.7">...</text><rect class="w" y="45.3" width="37" height="22.7"/><rect class="w" x="37" y="45.3" width="34" height="22.7"/><rect class="w" x="71" y="45.3" width="35" height="22.7"/><text x="4" y="61.3">&lt; 4</text><text class="r" x="103" y="61.3">1 &gt;</text></g>
<g id="KITTYPE" transform="translate(1084,2034)"><rect class="h" width="80" height="22.7"/><text class="c" x="40" y="16">KITTYPE</text><rect class="w" y="22.7" width="80" height="22.7"/><text x="4" y="38.7">...</text><rect class="w" y="45.3" width="30" height="22.7"/><rect class="w" x="30" y="45.3" width="24" height="22.7"/><rect class="w" x="54" y="45.3" width="26" height="22.7"/><text class="r" x="77" y="61.3">1 &gt;</text></g>
<g id="KITDISPLAYTYPE" transform="translate(716,2105)"><rect class="h" width="142" height="22.7"/><text class="c" x="71" y="16">KITDISPLAYTYPE</text>
<rect class="p" y="22.7" width="142" height="22.7"/><text x="4" y="38.7">ID</text>
<rect class="f" y="45.3" width="142" height="22.7"/><text x="4" y="61.3">NAME</text>
<rect class="w" y="68" width="48" height="22.7"/><rect class="w" x="48" y="68" width="47" height="22.7"/><rect class="w" x="95" y="68" width="47" height="22.7"/><text class="r" x="139" y="84">1 &gt;</text></g>
<g id="VENDORCOSTRULE" transform="translate(1045,2128)"><rect class="h" width="153" height="22.7"/><text class="c" x="76.5" y="16">VENDORCOSTRULE</text><rect class="w" y="22.7" width="153" height="22.7"/><text x="4" y="38.7">...</text><rect class="w" y="45.3" width="51" height="22.7"/><rect class="w" x="51" y="45.3" width="51" height="22.7"/><rect class="w" x="102" y="45.3" width="51" height="22.7"/><text x="4" y="61.3">&lt; 3</text></g>
<g id="ORDERTYPE" transform="translate(258,2181)"><rect class="h" width="105" height="22.7"/><text class="c" x="52.5" y="16">ORDERTYPE</text><rect class="w" y="22.7" width="105" height="22.7"/><text x="4" y="38.7">...</text><rect class="w" y="45.3" width="35" height="22.7"/><rect class="w" x="35" y="45.3" width="36" height="22.7"/><rect class="w" x="71" y="45.3" width="34" height="22.7"/><text class="r" x="102" y="61.3">8 &gt;</text></g>
<g id="QUICKLISTITEM" transform="translate(1395,2238)"><rect class="h" width="169" height="22.7"/><text class="c" x="84.5" y="16">QUICKLISTITEM</text>
<rect class="p" y="22.7" width="169" height="22.7"/><text x="4" y="38.7">ID</text>
<rect class="f" y="45.3" width="169" height="22.7"/><text x="4" y="61.3">QLISTID</text>
<rect class="f" y="68" width="169" height="22.7"/><text x="4" y="84">PRODUCTID</text>
<rect class="w" y="90.7" width="169" height="22.7"/><text x="4" y="106.7">CUSTOMERPARTNUM</text>
<rect class="w" y="113.4" width="169" height="22.7"/><text x="4" y="129.4">QUANTITY</text>
<rect class="w" y="136" width="57" height="22.7"/><rect class="w" x="57" y="136" width="56" height="22.7"/><rect class="w" x="113" y="136" width="56" height="22.7"/><text x="4" y="152">&lt; 2</text></g>
<g id="TAXRATE" transform="translate(458,2249)"><rect class="h" width="162" height="22.7"/><text class="c" x="81" y="16">TAXRATE</text>
<rect class="p" y="22.7" width="162" height="22.7"/><text x="4" y="38.7">ID</text>
<rect class="f" y="45.3" width="162" height="22.7"/><text x="4" y="61.3">NAME</text>
<rect class="w" y="68" width="162" height="22.7"/><text x="4" y="84">DEFAULTFLAG</text>
<rect class="f" y="90.7" width="162" height="22.7"/><text x="4" y="106.7">VENDORID</text>
<rect class="w" y="113.4" width="162" height="22.7"/><text x="4" y="129.4">DATECREATED</text>
<rect class="w" y="136" width="162" height="22.7"/><text x="4" y="152">DATELASTMODIFIED</text>
<rect class="w" y="158.7" width="162" height="22.7"/><text x="4" y="174.7">ACCOUNTINGID</text>
<rect class="w" y="181.4" width="162" height="22.7"/><text x="4" y="197.4">ACCOUNTINGHASH</text>
<rect class="w" y="204" width="162" height="22.7"/><text x="4" y="220">ACTIVEFLAG</text>
<rect class="f" y="226.7" width="162" height="22.7"/><text x="4" y="242.7">TYPEID</text>
<rect class="w" y="249.4" width="162" height="22.7"/><text x="4" y="265.4">DESCRIPTION</text>
<rect class="f" y="272" width="162" height="22.7"/><text x="4" y="288">TAXACCOUNTID</text>
<rect class="w" y="294.7" width="162" height="22.7"/><text x="4" y="310.7">UNITCOST</text>
<rect class="w" y="317.4" width="162" height="22.7"/><text x="4" y="333.4">RATE</text>
<rect class="w" y="340.1" width="162" height="22.7"/><text x="4" y="356.1">CODE</text>
<rect class="f" y="362.7" width="162" height="22.7"/><text x="4" y="378.7">ORDERTYPEID</text>
<rect class="w" y="385.4" width="54" height="22.7"/><rect class="w" x="54" y="385.4" width="54" height="22.7"/><rect class="w" x="108" y="385.4" width="54" height="22.7"/><text x="4" y="401.4">&lt; 4</text><text class="r" x="159" y="401.4">9 &gt;</text></g>
<g id="DEFAULTLOCATION" transform="translate(1045,2265)"><rect class="h" width="153" height="22.7"/><text class="c" x="76.5" y="16">DEFAULTLOCATION</text><rect class="w" y="22.7" width="153" height="22.7"/><text x="4" y="38.7">...</text><rect class="w" y="45.3" width="51" height="22.7"/><rect class="w" x="51" y="45.3" width="51" height="22.7"/><rect class="w" x="102" y="45.3" width="51" height="22.7"/><text x="4" y="61.3">&lt; 3</text></g>
<g id="PARTREORDER" transform="translate(1057,2362)"><rect class="h" width="125" height="22.7"/><text class="c" x="62.5" y="16">PARTREORDER</text><rect class="w" y="22.7" width="125" height="22.7"/><text x="4" y="38.7">...</text><rect class="w" y="45.3" width="42" height="22.7"/><rect class="w" x="42" y="45.3" width="42" height="22.7"/><rect class="w" x="84" y="45.3" width="41" height="22.7"/><text x="4" y="61.3">&lt; 2</text></g>
<g id="TAXRATETYPE" transform="translate(249,2453)"><rect class="h" width="122" height="22.7"/><text class="c" x="61" y="16">TAXRATETYPE</text><rect class="w" y="22.7" width="122" height="22.7"/><text x="4" y="38.7">...</text><rect class="w" y="45.3" width="42" height="22.7"/><rect class="w" x="42" y="45.3" width="40" height="22.7"/><rect class="w" x="82" y="45.3" width="40" height="22.7"/><text class="r" x="119" y="61.3">1 &gt;</text></g>
<g id="WATCH" transform="translate(1085,2459)"><rect class="h" width="74" height="22.7"/><text class="c" x="37" y="16">WATCH</text><rect class="w" y="22.7" width="74" height="22.7"/><text x="4" y="38.7">...</text><rect class="w" y="45.3" width="30" height="22.7"/><rect class="w" x="30" y="45.3" width="22" height="22.7"/><rect class="w" x="52" y="45.3" width="22" height="22.7"/><text x="4" y="61.3">&lt; 5</text></g>
<g id="POSTSOITEM" transform="translate(1693,2469)"><rect class="h" width="110" height="22.7"/><text class="c" x="55" y="16">POSTSOITEM</text><rect class="w" y="22.7" width="110" height="22.7"/><text x="4" y="38.7">...</text><rect class="w" y="45.3" width="38" height="22.7"/><rect class="w" x="38" y="45.3" width="36" height="22.7"/><rect class="w" x="74" y="45.3" width="36" height="22.7"/><text x="4" y="61.3">&lt; 2</text></g>
<g id="SOITEM" transform="translate(1356,2521)"><rect class="h" width="245" height="22.7"/><text class="c" x="122.5" y="16">SOITEM</text>
<rect class="p" y="22.7" width="245" height="22.7"/><text x="4" y="38.7">ID</text>
<rect class="w" y="45.3" width="245" height="22.7"/><text x="4" y="61.3">PRODUCTID</text>
<rect class="w" y="68" width="245" height="22.7"/><text x="4" y="84">SOID</text>
<rect class="f" y="90.7" width="245" height="22.7"/><text x="4" y="106.7">TYPEID</text>
<rect class="f" y="113.4" width="245" height="22.7"/><text x="4" y="129.4">STATUSID</text>
<rect class="w" y="136" width="245" height="22.7"/><text x="4" y="152">UOMID</text>
<rect class="w" y="158.7" width="245" height="22.7"/><text x="4" y="174.7">SOLINEITEM</text>
<rect class="w" y="181.4" width="245" height="22.7"/><text x="4" y="197.4">DESCRIPTION</text>
<rect class="w" y="204" width="245" height="22.7"/><text x="4" y="220">PRODUCTNUM</text>
<rect class="w" y="226.7" width="245" height="22.7"/><text x="4" y="242.7">CUSTOMERPARTNUM</text>
<rect class="w" y="249.4" width="245" height="22.7"/><text x="4" y="265.4">TAXABLEFLAG</text>
<rect class="w" y="272" width="245" height="22.7"/><text x="4" y="288">DATELASTFULFILLMENT</text>
<rect class="w" y="294.7" width="245" height="22.7"/><text x="4" y="310.7">DATESCHEDULEDFULFILLMENT</text>
<rect class="w" y="317.4" width="245" height="22.7"/><text x="4" y="333.4">REVLEVEL</text>
<rect class="w" y="340.1" width="245" height="22.7"/><text x="4" y="356.1">EXCHANGESOLINEITEM</text>
<rect class="f" y="362.7" width="245" height="22.7"/><text x="4" y="378.7">QBCLASSID</text>
<rect class="w" y="385.4" width="245" height="22.7"/><text x="4" y="401.4">NOTE</text>
<rect class="w" y="408.1" width="245" height="22.7"/><text x="4" y="424.1">SHOWITEMFLAG</text>
<rect class="w" y="430.7" width="245" height="22.7"/><text x="4" y="446.7">QTYTOFULFILL</text>
<rect class="w" y="453.4" width="245" height="22.7"/><text x="4" y="469.4">QTYFULFILLED</text>
<rect class="w" y="476.1" width="245" height="22.7"/><text x="4" y="492.1">QTYPICKED</text>
<rect class="w" y="498.7" width="245" height="22.7"/><text x="4" y="514.7">ITEMADJUSTID</text>
<rect class="w" y="521.4" width="245" height="22.7"/><text x="4" y="537.4">ADJUSTPERCENTAGE</text>
<rect class="w" y="544.1" width="245" height="22.7"/><text x="4" y="560.1">UNITPRICE</text>
<rect class="w" y="566.8" width="245" height="22.7"/><text x="4" y="582.8">TOTALPRICE</text>
<rect class="w" y="589.4" width="245" height="22.7"/><text x="4" y="605.4">ADJUSTAMOUNT</text>
<rect class="w" y="612.1" width="245" height="22.7"/><text x="4" y="628.1">TOTALCOST</text>
<rect class="w" y="634.8" width="245" height="22.7"/><text x="4" y="650.8">DATELASTMODIFIED</text>
<rect class="w" y="657.4" width="245" height="22.7"/><text x="4" y="673.4">TAXID</text>
<rect class="w" y="680.1" width="245" height="22.7"/><text x="4" y="696.1">TAXRATE</text>
<rect class="w" y="702.8" width="83" height="22.7"/><rect class="w" x="83" y="702.8" width="81" height="22.7"/><rect class="w" x="164" y="702.8" width="81" height="22.7"/><text x="4" y="718.8">&lt; 7</text><text class="r" x="242" y="718.8">2 &gt;</text></g>
<g id="RMAITEMTYPE" transform="translate(1064,2557)"><rect class="h" width="116" height="22.7"/><text class="c" x="58" y="16">RMAITEMTYPE</text><rect class="w" y="22.7" width="116" height="22.7"/><text x="4" y="38.7">...</text><rect class="w" y="45.3" width="39" height="22.7"/><rect class="w" x="39" y="45.3" width="39" height="22.7"/><rect class="w" x="78" y="45.3" width="38" height="22.7"/><text class="r" x="113" y="61.3">1 &gt;</text></g>
<g id="SOITEMTOMOITEM" transform="translate(1676,2567)"><rect class="h" width="145" height="22.7"/><text class="c" x="72.5" y="16">SOITEMTOMOITEM</text><rect class="w" y="22.7" width="145" height="22.7"/><text x="4" y="38.7">...</text><rect class="w" y="45.3" width="49" height="22.7"/><rect class="w" x="49" y="45.3" width="48" height="22.7"/><rect class="w" x="97" y="45.3" width="48" height="22.7"/><text x="4" y="61.3">&lt; 1</text></g>
<g id="INVENTORYLOG" transform="translate(1057,2654)"><rect class="h" width="132" height="22.7"/><text class="c" x="66" y="16">INVENTORYLOG</text><rect class="w" y="22.7" width="132" height="22.7"/><text x="4" y="38.7">...</text><rect class="w" y="45.3" width="44" height="22.7"/><rect class="w" x="44" y="45.3" width="44" height="22.7"/><rect class="w" x="88" y="45.3" width="44" height="22.7"/><text x="4" y="61.3">&lt; 6</text><text class="r" x="129" y="61.3">1 &gt;</text></g>
<g id="SOITEMTYPE" transform="translate(733,2721)"><rect class="h" width="104" height="22.7"/><text class="c" x="52" y="16">SOITEMTYPE</text>
<rect class="p" y="22.7" width="104" height="22.7"/><text x="4" y="38.7">ID</text>
<rect class="f" y="45.3" width="104" height="22.7"/><text x="4" y="61.3">NAME</text>
<rect class="w" y="68" width="35" height="22.7"/><rect class="w" x="35" y="68" width="35" height="22.7"/><rect class="w" x="70" y="68" width="34" height="22.7"/><text class="r" x="101" y="84">3 &gt;</text></g>
<g id="QUICKLIST" transform="translate(1076,2789)"><rect class="h" width="90" height="22.7"/><text class="c" x="45" y="16">QUICKLIST</text><rect class="w" y="22.7" width="90" height="22.7"/><text x="4" y="38.7">...</text><rect class="w" y="45.3" width="31" height="22.7"/><rect class="w" x="31" y="45.3" width="29" height="22.7"/><rect class="w" x="60" y="45.3" width="30" height="22.7"/><text x="4" y="61.3">&lt; 1</text><text class="r" x="87" y="61.3">1 &gt;</text></g>
<g id="CUSTOMER" transform="translate(737,2909)"><rect class="h" width="100" height="22.7"/><text class="c" x="50" y="16">CUSTOMER</text><rect class="w" y="22.7" width="100" height="22.7"/><text x="4" y="38.7">...</text><rect class="w" y="45.3" width="34" height="22.7"/><rect class="w" x="34" y="45.3" width="33" height="22.7"/><rect class="w" x="67" y="45.3" width="33" height="22.7"/><text x="4" y="61.3">&lt; 8</text><text class="r" x="97" y="61.3">8 &gt;</text></g>
<g id="RMA" transform="translate(1080,2921)"><rect class="h" width="81" height="22.7"/><text class="c" x="40.5" y="16">RMA</text><rect class="w" y="22.7" width="81" height="22.7"/><text x="4" y="38.7">...</text><rect class="w" y="45.3" width="30" height="22.7"/><rect class="w" x="30" y="45.3" width="24" height="22.7"/><rect class="w" x="54" y="45.3" width="27" height="22.7"/><text x="4" y="61.3">&lt; 4</text><text class="r" x="78" y="61.3">1 &gt;</text></g>
<g id="LOCATIONGROUP" transform="translate(716,3016)"><rect class="h" width="142" height="22.7"/><text class="c" x="71" y="16">LOCATIONGROUP</text><rect class="w" y="22.7" width="142" height="22.7"/><text x="4" y="38.7">...</text><rect class="w" y="45.3" width="48" height="22.7"/><rect class="w" x="48" y="45.3" width="47" height="22.7"/><rect class="w" x="95" y="45.3" width="47" height="22.7"/><text x="4" y="61.3">&lt; 1</text><text class="r" x="139" y="61.3">19 &gt;</text></g>
<g id="WO" transform="translate(1080,3016)"><rect class="h" width="81" height="22.7"/><text class="c" x="40.5" y="16">WO</text><rect class="w" y="22.7" width="81" height="22.7"/><text x="4" y="38.7">...</text><rect class="w" y="45.3" width="30" height="22.7"/><rect class="w" x="30" y="45.3" width="24" height="22.7"/><rect class="w" x="54" y="45.3" width="27" height="22.7"/><text x="4" y="61.3">&lt; 8</text><text class="r" x="78" y="61.3">3 &gt;</text></g>
<g id="null.VENDOR" transform="translate(259,3049)"><rect class="h" width="101" height="22.7"/><text class="c" x="50.5" y="16">null.VENDOR</text><rect class="w" y="22.7" width="101" height="22.7"/><text x="4" y="38.7">...</text><rect class="w" y="45.3" width="34" height="22.7"/><rect class="w" x="34" y="45.3" width="34" height="22.7"/><rect class="w" x="68" y="45.3" width="33" height="22.7"/><text class="r" x="98" y="61.3">5 &gt;</text></g>
<g id="SOITEMSTATUS" transform="translate(1057,3113)"><rect class="h" width="132" height="22.7"/><text class="c" x="66" y="16">SOITEMSTATUS</text><rect class="w" y="22.7" width="132" height="22.7"/><text x="4" y="38.7">...</text><rect class="w" y="45.3" width="44" height="22.7"/><rect class="w" x="44" y="45.3" width="44" height="22.7"/><rect class="w" x="88" y="45.3" width="44" height="22.7"/><text class="r" x="129" y="61.3">1 &gt;</text></g>
<g id="QBCLASS" transform="translate(457,3224)"><rect class="h" width="163" height="22.7"/><text class="c" x="81.5" y="16">QBCLASS</text>
<rect class="p" y="22.7" width="163" height="22.7"/><text x="4" y="38.7">ID</text>
<rect class="f" y="45.3" width="163" height="22.7"/><text x="4" y="61.3">NAME</text>
<rect class="f" y="68" width="163" height="22.7"/><text x="4" y="84">PARENTID</text>
<rect class="w" y="90.7" width="163" height="22.7"/><text x="4" y="106.7">ACTIVEFLAG</text>
<rect class="w" y="113.4" width="163" height="22.7"/><text x="4" y="129.4">DATECREATED</text>
<rect class="w" y="136" width="163" height="22.7"/><text x="4" y="152">DATELASTMODIFIED</text>
<rect class="w" y="158.7" width="163" height="22.7"/><text x="4" y="174.7">ACCOUNTINGID</text>
<rect class="w" y="181.4" width="163" height="22.7"/><text x="4" y="197.4">ACCOUNTINGHASH</text>
<rect class="w" y="204" width="55" height="22.7"/><rect class="w" x="55" y="204" width="53" height="22.7"/><rect class="w" x="108" y="204" width="55" height="22.7"/><text class="r" x="160" y="220">7 &gt;</text></g>
<g id="SO" transform="translate(1080,3250)"><rect class="h" width="81" height="22.7"/><text class="c" x="40.5" y="16">SO</text><rect class="w" y="22.7" width="81" height="22.7"/><text x="4" y="38.7">...</text><rect class="w" y="45.3" width="40" height="22.7"/><rect class="w" x="40" y="45.3" width="18" height="22.7"/><rect class="w" x="58" y="45.3" width="23" height="22.7"/><text x="4" y="61.3">&lt; 12</text><text class="r" x="78" y="61.3">4 &gt;</text></g>
<g id="POSTRANSACTION" transform="translate(1402,3273)"><rect class="h" width="151" height="22.7"/><text class="c" x="75.5" y="16">POSTRANSACTION</text><rect class="w" y="22.7" width="151" height="22.7"/><text x="4" y="38.7">...</text><rect class="w" y="45.3" width="51" height="22.7"/><rect class="w" x="51" y="45.3" width="50" height="22.7"/><rect class="w" x="101" y="45.3" width="50" height="22.7"/><text x="4" y="61.3">&lt; 3</text></g>
<g id="PO" transform="translate(1080,3384)"><rect class="h" width="81" height="22.7"/><text class="c" x="40.5" y="16">PO</text><rect class="w" y="22.7" width="81" height="22.7"/><text x="4" y="38.7">...</text><rect class="w" y="45.3" width="40" height="22.7"/><rect class="w" x="40" y="45.3" width="18" height="22.7"/><rect class="w" x="58" y="45.3" width="23" height="22.7"/><text x="4" y="61.3">&lt; 11</text><text class="r" x="78" y="61.3">1 &gt;</text></g>
<g id="MO" transform="translate(1446,3370)"><rect class="h" width="58" height="22.7"/><text class="c" x="29" y="16">MO</text><rect class="w" y="22.7" width="58" height="22.7"/><text x="4" y="38.7">...</text><rect class="w" y="45.3" width="30" height="22.7"/><rect class="w" x="30" y="45.3" width="14" height="22.7"/><rect class="w" x="44" y="45.3" width="14" height="22.7"/><text x="4" y="61.3">&lt; 5</text></g>
<text x="12" y="3618" style="font-size:13px">Generated by SchemaSpy</text>
</svg>
